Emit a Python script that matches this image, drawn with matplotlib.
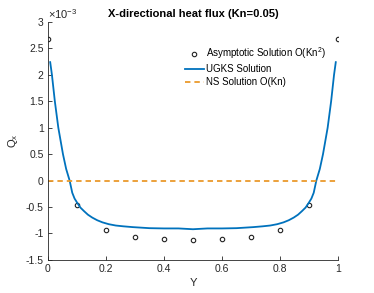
import numpy as np
import matplotlib
matplotlib.use('Agg')
import matplotlib.pyplot as plt

# asymptotic solution O(Kn^2), values in 1e-3
y_asym = [0.0, 0.1, 0.2, 0.3, 0.4, 0.5, 0.6, 0.7, 0.8, 0.9, 1.0]
q_asym = [2.67, -0.46, -0.93, -1.07, -1.10, -1.12, -1.10, -1.07, -0.93, -0.46, 2.67]

# UGKS solution
y_ugks = [0.008, 0.014, 0.024, 0.036, 0.052, 0.063, 0.075, 0.084, 0.092, 0.101, 0.112,
          0.125, 0.138, 0.153, 0.17, 0.188, 0.21, 0.234, 0.26, 0.292, 0.35, 0.4, 0.45,
          0.5, 0.55, 0.6, 0.65, 0.708, 0.74, 0.766, 0.79, 0.812, 0.83, 0.847, 0.862,
          0.875, 0.888, 0.899, 0.908, 0.916, 0.925, 0.937, 0.948, 0.964, 0.976, 0.986, 0.992]
q_ugks = [2.24, 2.0, 1.5, 1.0, 0.5, 0.22, 0.0, -0.23, -0.34, -0.42, -0.51,
          -0.58, -0.645, -0.70, -0.75, -0.79, -0.825, -0.85, -0.865, -0.88, -0.90, -0.905, -0.905,
          -0.92, -0.905, -0.905, -0.90, -0.88, -0.865, -0.85, -0.825, -0.79, -0.75, -0.70, -0.645,
          -0.58, -0.51, -0.42, -0.34, -0.23, 0.0, 0.22, 0.5, 1.0, 1.5, 2.0, 2.24]

# Navier-Stokes solution O(Kn)
y_ns = [0.0, 1.0]
q_ns = [0.0, 0.0]

plt.rcParams['font.family'] = ['Liberation Sans', 'DejaVu Sans']
plt.rcParams['mathtext.fontset'] = 'custom'
plt.rcParams['mathtext.rm'] = 'Liberation Sans'
plt.rcParams['mathtext.it'] = 'Liberation Sans'

fig = plt.figure(figsize=(3.74, 2.93), dpi=100)
ax = fig.add_axes([0.128, 0.113, 0.776, 0.812])

txt = '#262626'
ax.plot(y_asym, q_asym, 'o', ms=3.2, mfc='none', mec='#222222', mew=0.8,
        label='Asymptotic Solution O(Kn$^\\mathrm{2}$)')
ax.plot(y_ugks, q_ugks, '-', color='#0072BD', lw=1.3, label='UGKS Solution')
ax.plot(y_ns, q_ns, '--', color='#EA9A2C', lw=1.3, dashes=(3, 2.2),
        label='NS Solution O(Kn)')

ax.set_xlim(0, 1)
ax.set_ylim(-1.5, 3)
ax.set_xticks([0, 0.2, 0.4, 0.6, 0.8, 1])
ax.set_xticklabels(['0', '0.2', '0.4', '0.6', '0.8', '1'])
ax.set_yticks([-1.5, -1, -0.5, 0, 0.5, 1, 1.5, 2, 2.5, 3])
ax.set_yticklabels(['-1.5', '-1', '-0.5', '0', '0.5', '1', '1.5', '2', '2.5', '3'])
ax.tick_params(direction='in', length=3, width=0.6, labelsize=7.5, colors=txt, pad=3)
for s in ['top', 'right']:
    ax.spines[s].set_visible(False)
for s in ['left', 'bottom']:
    ax.spines[s].set_color(txt)
    ax.spines[s].set_linewidth(0.6)

ax.set_xlabel('Y', fontsize=8, color=txt, labelpad=3)
ax.set_ylabel('Q$_\\mathrm{x}$', fontsize=8, color=txt, labelpad=4)
ax.set_title('X-directional heat flux (Kn=0.05)', fontsize=8, fontweight='bold', pad=3.5)
ax.text(0.0, 1.005, '$\\times$10$^\\mathrm{-3}$', transform=ax.transAxes, fontsize=8,
        color=txt, ha='left', va='bottom')

ax.legend(loc='upper left', bbox_to_anchor=(0.465, 0.91), frameon=False, fontsize=7,
          handlelength=2.0, handletextpad=0.2, labelspacing=0.3, borderaxespad=0,
          borderpad=0.2)

fig.savefig('out.png', dpi=100)
